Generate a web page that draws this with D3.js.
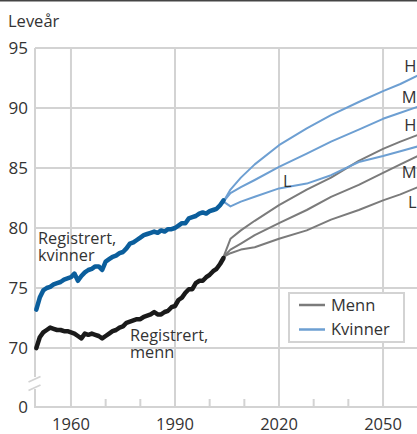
<!DOCTYPE html>
<html>
<head>
<meta charset="utf-8">
<script src="https://cdn.jsdelivr.net/npm/d3@7"></script>
<style>
  html, body { margin: 0; padding: 0; background: #fff; }
  svg { display: block; font-family: "Open Sans", "Noto Sans", sans-serif; }
</style>
</head>
<body>
<svg id="chart" width="417" height="434"></svg>
<script>
// ---------- data ----------
const regYears = d3.range(1950, 2005);
const regWomen = [73.2, 74.2, 74.8, 75.0, 75.1, 75.3, 75.4, 75.5, 75.7, 75.8,
  75.9, 76.2, 75.6, 76.0, 76.3, 76.5, 76.6, 76.8, 76.8, 76.5,
  77.2, 77.4, 77.6, 77.7, 77.9, 78.0, 78.3, 78.7, 78.8, 79.0,
  79.2, 79.4, 79.5, 79.6, 79.7, 79.6, 79.8, 79.7, 79.9, 79.9,
  80.0, 80.2, 80.4, 80.4, 80.8, 80.9, 81.0, 81.2, 81.3, 81.2,
  81.4, 81.5, 81.6, 81.9, 82.3];
const regMen = [69.9, 70.9, 71.3, 71.5, 71.7, 71.6, 71.5, 71.5, 71.4, 71.4,
  71.3, 71.2, 71.0, 70.8, 71.2, 71.1, 71.2, 71.1, 71.0, 70.8,
  71.0, 71.2, 71.4, 71.5, 71.7, 71.8, 72.1, 72.2, 72.3, 72.4,
  72.4, 72.6, 72.7, 72.8, 73.0, 72.8, 72.8, 73.0, 73.1, 73.4,
  73.5, 74.0, 74.2, 74.6, 74.9, 74.9, 75.4, 75.6, 75.6, 75.9,
  76.1, 76.4, 76.6, 77.0, 77.5];

const projYears = [2004, 2006, 2009, 2013, 2020, 2028, 2035, 2043, 2050, 2055, 2060];
const womenH = [82.2, 83.2, 84.2, 85.3, 86.9, 88.3, 89.4, 90.5, 91.4, 92.0, 92.7];
const womenM = [82.2, 82.9, 83.4, 84.0, 85.1, 86.2, 87.2, 88.2, 89.1, 89.6, 90.1];
const womenL = [82.2, 81.8, 82.2, 82.6, 83.3, 83.7, 84.4, 85.5, 86.0, 86.4, 86.8];
const menH   = [77.6, 79.1, 79.8, 80.6, 81.9, 83.2, 84.2, 85.6, 86.6, 87.2, 87.75];
const menM   = [77.6, 78.2, 78.7, 79.4, 80.4, 81.5, 82.6, 83.6, 84.6, 85.3, 86.0];
const menL   = [77.6, 77.9, 78.2, 78.4, 79.1, 79.8, 80.7, 81.5, 82.3, 82.8, 83.4];

const yTicks = [0, 70, 75, 80, 85, 90, 95];
const xLabelTicks = [1960, 1990, 2020, 2050];
const xMinorTicks = [1970, 1980, 2000, 2010, 2030, 2040];
const yTitle = "Leveår";
const legendLabels = ["Menn", "Kvinner"];
const scenarioLabels = ["H", "M", "L"];

// ---------- layout ----------
const svg = d3.select("#chart");
const W = 417, H = 434;
const pLeft = 35, pRight = 417, pBottom = 407, pTop = 48;

const x = d3.scaleLinear().domain([1950, 2060]).range([36.3, 417.7]);
const y = d3.scaleLinear().domain([0, 70, 95]).range([pBottom, 348, pTop]);

const gridCol = "#d3d3d3";
const textCol = "#333";
const cWomenReg = "#0b5e9c", cMenReg = "#1a1a1a";
const cWomenProj = "#6d9fd2", cMenProj = "#7b7b7b";

// top rule
svg.append("line").attr("x1", 0).attr("x2", W).attr("y1", 0.75).attr("y2", 0.75)
  .attr("stroke", "#444").attr("stroke-width", 1.5);

// title
svg.append("text").attr("x", 8).attr("y", 27).attr("font-size", 16.5)
  .attr("fill", textCol).text(yTitle);

// horizontal grid
svg.append("g").selectAll("line").data(yTicks.filter(d => d >= 70)).join("line")
  .attr("x1", pLeft).attr("x2", pRight)
  .attr("y1", d => y(d)).attr("y2", d => y(d))
  .attr("stroke", gridCol).attr("stroke-width", 2);

// vertical grid
svg.append("g").selectAll("line").data(xLabelTicks).join("line")
  .attr("x1", d => x(d)).attr("x2", d => x(d))
  .attr("y1", pTop).attr("y2", pBottom)
  .attr("stroke", gridCol).attr("stroke-width", 2);

// left axis with break
svg.append("line").attr("x1", pLeft).attr("x2", pLeft).attr("y1", pTop).attr("y2", 377)
  .attr("stroke", gridCol).attr("stroke-width", 2);
svg.append("line").attr("x1", pLeft).attr("x2", pLeft).attr("y1", 389).attr("y2", pBottom + 1)
  .attr("stroke", gridCol).attr("stroke-width", 2);
[0, 8.5].forEach(o => {
  svg.append("line").attr("x1", 28.5).attr("x2", 40.5)
    .attr("y1", 382 + o).attr("y2", 376.5 + o)
    .attr("stroke", gridCol).attr("stroke-width", 1.8);
});

// bottom axis
svg.append("line").attr("x1", pLeft - 1).attr("x2", pRight).attr("y1", pBottom).attr("y2", pBottom)
  .attr("stroke", gridCol).attr("stroke-width", 2);
svg.append("g").selectAll("line").data(xMinorTicks).join("line")
  .attr("x1", d => x(d)).attr("x2", d => x(d))
  .attr("y1", pBottom - 8).attr("y2", pBottom)
  .attr("stroke", gridCol).attr("stroke-width", 2);

// y tick labels
svg.append("g").selectAll("text").data(yTicks).join("text")
  .attr("x", 28).attr("y", d => y(d)).attr("dy", "0.36em")
  .attr("text-anchor", "end").attr("font-size", 17).attr("fill", textCol)
  .text(d => d);

// x tick labels
svg.append("g").selectAll("text").data(xLabelTicks).join("text")
  .attr("x", d => x(d)).attr("y", 429.5)
  .attr("text-anchor", "middle").attr("font-size", 16.5).attr("fill", textCol)
  .text(d => d);

// lines
const lineGen = (xs) => d3.line().x((d, i) => x(xs[i])).y(d => y(d)).curve(d3.curveLinear);

function draw(xs, vals, color, w) {
  svg.append("path").datum(vals).attr("d", lineGen(xs))
    .attr("fill", "none").attr("stroke", color).attr("stroke-width", w)
    .attr("stroke-linejoin", "round").attr("stroke-linecap", "round");
}
[menL, menM, menH].forEach(v => draw(projYears, v, cMenProj, 2));
[womenL, womenM, womenH].forEach(v => draw(projYears, v, cWomenProj, 2));
draw(regYears, regMen, cMenReg, 4.5);
draw(regYears, regWomen, cWomenReg, 4.5);

// scenario labels
const scen = [
  { t: scenarioLabels[0], v: womenH[womenH.length - 1], dy: -10 },
  { t: scenarioLabels[1], v: womenM[womenM.length - 1], dy: -10 },
  { t: scenarioLabels[0], v: menH[menH.length - 1], dy: -10 },
  { t: scenarioLabels[1], v: menM[menM.length - 1], dy: 16 },
  { t: scenarioLabels[2], v: menL[menL.length - 1], dy: 15 }
];
svg.append("g").selectAll("text").data(scen).join("text")
  .attr("x", 416.5).attr("y", d => y(d.v) + d.dy).attr("dy", "0.36em")
  .attr("text-anchor", "end").attr("font-size", 16.5).attr("fill", textCol)
  .text(d => d.t);
svg.append("text").attr("x", x(2022.4)).attr("y", y(83.3) - 7.5).attr("dy", "0.36em")
  .attr("text-anchor", "middle").attr("font-size", 16.5).attr("fill", textCol)
  .text(scenarioLabels[2]);

// registered labels
const regW = svg.append("text").attr("font-size", 16.3).attr("fill", textCol);
regW.append("tspan").attr("x", 38).attr("y", 243.5).text("Registrert,");
regW.append("tspan").attr("x", 38).attr("y", 260.5).text("kvinner");
const regM = svg.append("text").attr("font-size", 16.3).attr("fill", textCol);
regM.append("tspan").attr("x", 130).attr("y", 341).text("Registrert,");
regM.append("tspan").attr("x", 130).attr("y", 358).text("menn");

// legend
const lg = svg.append("g");
lg.append("rect").attr("x", 289).attr("y", 293).attr("width", 115).attr("height", 49)
  .attr("fill", "#fff").attr("stroke", gridCol).attr("stroke-width", 2);
const items = [{ t: legendLabels[0], c: cMenProj, y: 305 }, { t: legendLabels[1], c: cWomenProj, y: 329.5 }];
items.forEach(it => {
  lg.append("line").attr("x1", 299).attr("x2", 325).attr("y1", it.y).attr("y2", it.y)
    .attr("stroke", it.c).attr("stroke-width", 2.5);
  lg.append("text").attr("x", 331).attr("y", it.y).attr("dy", "0.36em")
    .attr("font-size", 16.5).attr("fill", textCol).text(it.t);
});
</script>
</body>
</html>
